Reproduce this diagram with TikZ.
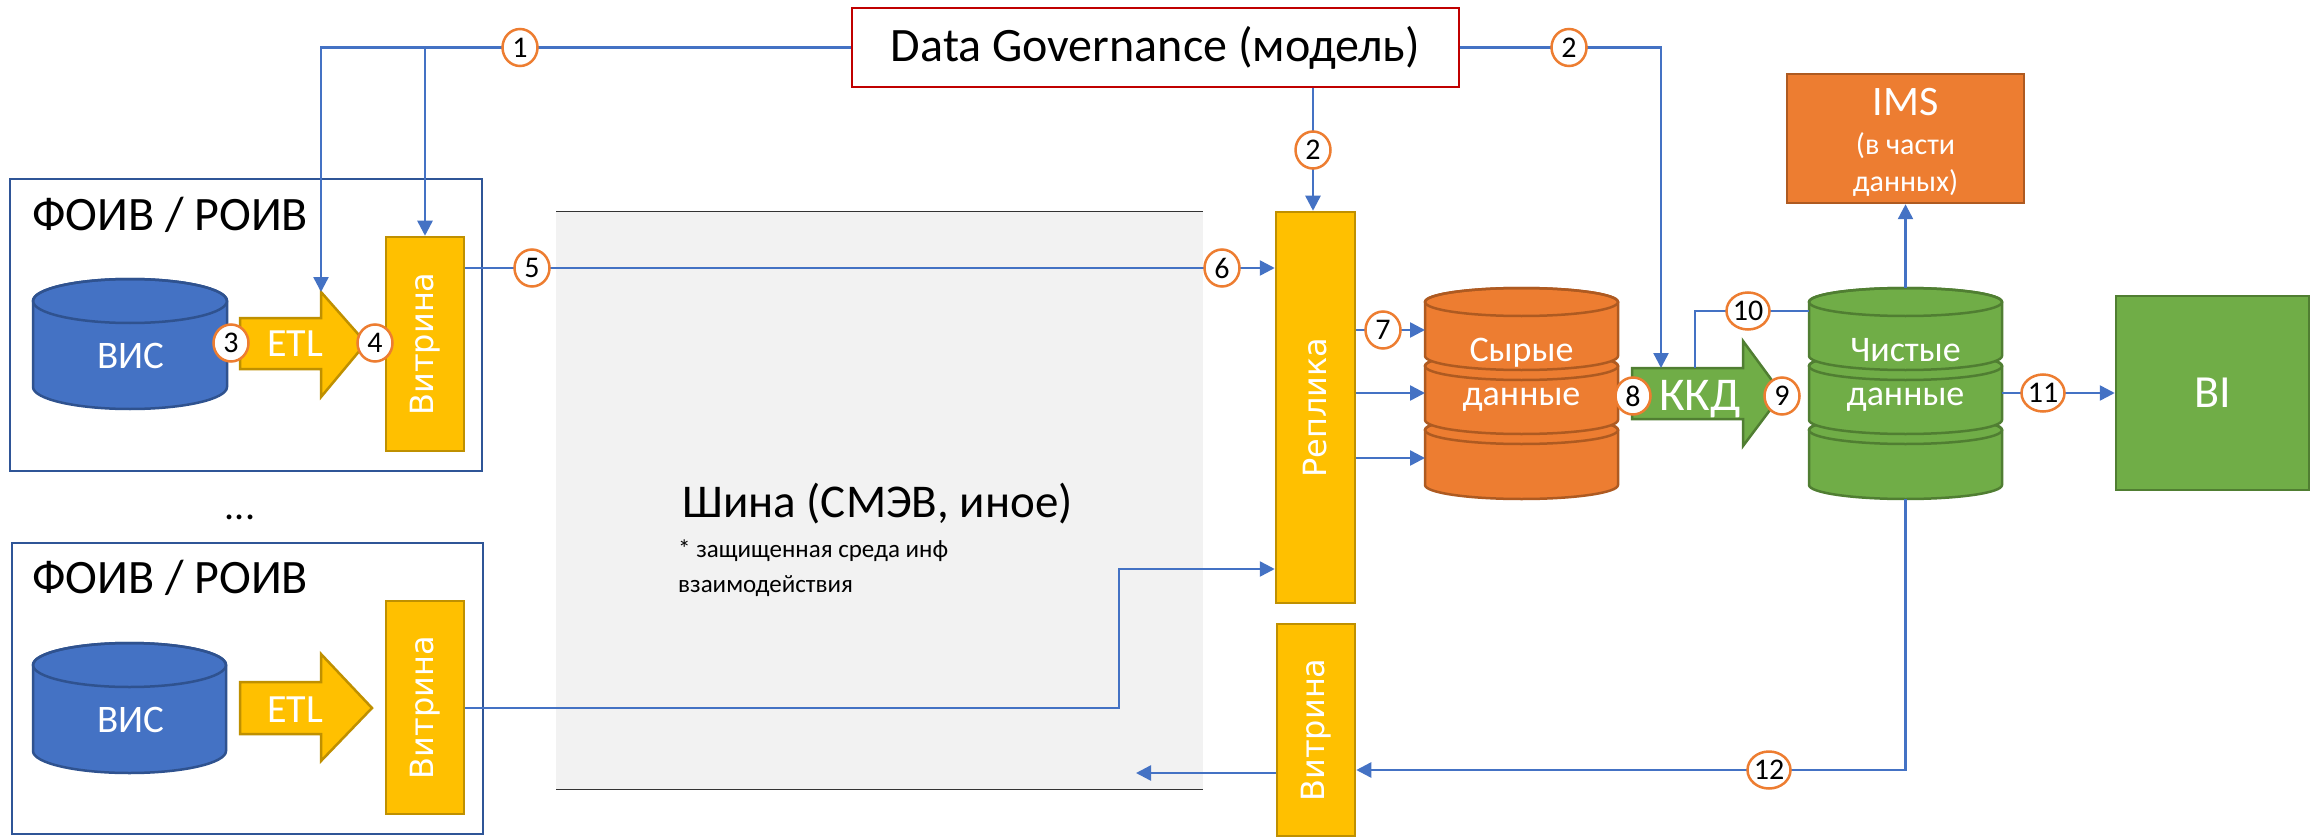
\documentclass[tikz,border=0pt]{standalone}
\usepackage{fontspec}
\setmainfont{Carlito}
\newfontfamily\vfont{DejaVu Sans}
\usetikzlibrary{arrows.meta,shapes.geometric}
\definecolor{cBlue}{HTML}{4472C4}
\definecolor{cFoiv}{HTML}{2F5597}
\definecolor{cCylB}{HTML}{2F528F}
\definecolor{cYel}{HTML}{FFC000}
\definecolor{cYelB}{HTML}{BF9000}
\definecolor{cOr}{HTML}{ED7D31}
\definecolor{cOrB}{HTML}{AE5A21}
\definecolor{cGr}{HTML}{70AD47}
\definecolor{cGrB}{HTML}{507E32}
\definecolor{cGray}{HTML}{F2F2F2}
\definecolor{cRed}{HTML}{C00000}
% disk: x0, x1, ytop-centre, ybottom-centre, ry, fill, draw
\newcommand\mydisk[7]{%
  \pgfmathsetmacro\dcx{(#1+#2)/2}%
  \pgfmathsetmacro\drx{(#2-#1)/2}%
  \pgfmathsetmacro\dkx{0.5523*\drx}%
  \pgfmathsetmacro\dky{0.5523*#5}%
  \pgfmathsetmacro\dbl{#4+#5}%
  \pgfmathsetmacro\dbk{#4+\dky}%
  \pgfmathsetmacro\dtl{#3-#5}%
  \pgfmathsetmacro\dtk{#3-\dky}%
  \pgfmathsetmacro\dxa{\dcx-\dkx}%
  \pgfmathsetmacro\dxb{\dcx+\dkx}%
  \filldraw[fill=#6,draw=#7,line width=2.5pt,line join=round]
    (#1,#3) -- (#1,#4) .. controls (#1,\dbk) and (\dxa,\dbl) .. (\dcx,\dbl)
    .. controls (\dxb,\dbl) and (#2,\dbk) .. (#2,#4) -- (#2,#3)
    .. controls (#2,\dtk) and (\dxb,\dtl) .. (\dcx,\dtl)
    .. controls (\dxa,\dtl) and (#1,\dtk) .. (#1,#3) -- cycle;
  \draw[draw=#7,line width=2.5pt] (\dcx,#3) ellipse[x radius=\drx, y radius=#5];
}
\tikzset{
  foiv/.style={draw=cFoiv,line width=2.5pt,inner sep=0,fill=white},
  yelbox/.style={fill=cYel,draw=cYelB,line width=2.5pt,inner sep=0,text=white,font=\vfont\fontsize{32}{32}\selectfont},
  num/.style={ellipse,draw=cOr,fill=white,line width=2.5pt,minimum width=35pt,minimum height=37pt,inner sep=0pt,font=\fontsize{30}{30}\selectfont},
  conn/.style={draw=cBlue,line width=2.5pt},
  arr/.style={conn,-{Triangle[length=15pt,width=15pt]}},
  big/.style={font=\fontsize{48}{48}\selectfont,inner sep=0},
  wtxt/.style={text=white,inner sep=0},
  ghost/.style={inner sep=0,outer sep=0,draw=none},
}
\begin{document}
\begin{tikzpicture}[x=1pt,y=-1pt]
\useasboundingbox (0,0) rectangle (2323,837);
% bus
\node[fill=cGray,minimum width=647pt,minimum height=577pt,inner sep=0,outer sep=0] (bus) at (879.5,500.5) {};
\draw[line width=1pt,black!80] (bus.north west) -- (bus.north east);
\draw[line width=1pt,black!80] (bus.south west) -- (bus.south east);
\node[font=\fontsize{47}{47}\selectfont,anchor=base west,inner sep=0] (bust) at (682,517) {Шина (СМЭВ, иное)};
\node[font=\fontsize{25}{25}\selectfont,anchor=base west,inner sep=0] (busn1) at (678,557) {* защищенная среда инф};
\node[font=\fontsize{25}{25}\selectfont,anchor=base west,inner sep=0] (busn2) at (678,592) {взаимодействия};

% FOIV boxes
\node[foiv,minimum width=472pt,minimum height=292pt] (f1) at (246,325) {};
\node[big,anchor=base west] (f1t) at (32,230) {ФОИВ / РОИВ};
\node[foiv,minimum width=471pt,minimum height=291pt] (f2) at (247.5,688.5) {};
\node[big,anchor=base west] (f2t) at (32,593) {ФОИВ / РОИВ};
\node[font=\fontsize{40}{40}\selectfont,inner sep=0,anchor=base] (dots) at (240,519) {...};

% VIS cylinders
\mydisk{33}{227}{301}{387}{22}{cBlue}{cCylB}
\node[ghost,minimum width=194pt,minimum height=130pt] (vis1) at (130,344) {};
\node[wtxt,font=\fontsize{39}{39}\selectfont] (vis1t) at (131,356) {ВИС};
\mydisk{33}{226}{665}{751}{22}{cBlue}{cCylB}
\node[ghost,minimum width=193pt,minimum height=130pt] (vis2) at (129.5,708) {};
\node[wtxt,font=\fontsize{39}{39}\selectfont] (vis2t) at (131,720) {ВИС};

% ETL arrows
\filldraw[fill=cYel,draw=cYelB,line width=2.5pt] (240,318) -- (321,318) -- (321,292) -- (366,343) -- (321,397) -- (321,369) -- (240,369) -- cycle;
\coordinate (etl1top) at (321,292);
\node[wtxt,font=\fontsize{40}{40}\selectfont] (etl1) at (295,344) {ETL};
\filldraw[fill=cYel,draw=cYelB,line width=2.5pt] (240,682) -- (321,682) -- (321,654) -- (372,708) -- (321,761) -- (321,734) -- (240,734) -- cycle;
\node[wtxt,font=\fontsize{40}{40}\selectfont] (etl2) at (295,710) {ETL};

% yellow boxes
\node[yelbox,minimum width=78pt,minimum height=214pt] (v1) at (425,344) {\rotatebox{90}{Витрина}};
\node[yelbox,minimum width=78pt,minimum height=213pt] (v2) at (425,707.5) {\rotatebox{90}{Витрина}};
\node[yelbox,minimum width=79pt,minimum height=391pt] (rep) at (1315.5,407.5) {\rotatebox{90}{Реплика}};
\node[yelbox,minimum width=78pt,minimum height=212pt] (v3) at (1316,730) {\rotatebox{90}{Витрина}};

% Data Governance
\node[draw=cRed,line width=2.5pt,fill=white,minimum width=607pt,minimum height=79pt,font=\fontsize{48}{48}\selectfont] (dg) at (1155.5,47.5) {Data Governance (модель)};

% raw data cylinder
\mydisk{1425}{1618}{430}{485}{14}{cOr}{cOrB}
\mydisk{1425}{1618}{366}{420}{14}{cOr}{cOrB}
\mydisk{1425}{1618}{302}{356}{14}{cOr}{cOrB}
\node[ghost,minimum width=193pt,minimum height=211pt] (raw) at (1521.5,393.5) {};
\node[wtxt,font=\fontsize{36}{36}\selectfont,anchor=base] (rawt1) at (1521.5,361) {Сырые};
\node[wtxt,font=\fontsize{36}{36}\selectfont,anchor=base] (rawt2) at (1521.5,405) {данные};

% clean data cylinder
\mydisk{1809}{2002}{430}{485}{14}{cGr}{cGrB}
\mydisk{1809}{2002}{366}{420}{14}{cGr}{cGrB}
\mydisk{1809}{2002}{302}{356}{14}{cGr}{cGrB}
\node[ghost,minimum width=193pt,minimum height=211pt] (cln) at (1905.5,393.5) {};
\node[wtxt,font=\fontsize{36}{36}\selectfont,anchor=base] (clnt1) at (1905.5,361) {Чистые};
\node[wtxt,font=\fontsize{36}{36}\selectfont,anchor=base] (clnt2) at (1905.5,405) {данные};

% KKD arrow
\filldraw[fill=cGr,draw=cGrB,line width=2.5pt] (1632,368) -- (1743,368) -- (1743,341) -- (1782,394) -- (1743,446) -- (1743,419) -- (1632,419) -- cycle;
\coordinate (kkdtop) at (1661,368);
\coordinate (kkd10) at (1695,368);
\node[wtxt,font=\fontsize{47}{47}\selectfont,anchor=base] (kkd) at (1700,410) {ККД};

% IMS and BI
\node[fill=cOr,draw=cOrB,line width=2.5pt,minimum width=237pt,minimum height=129pt] (ims) at (1905.5,138.5) {};
\node[wtxt,font=\fontsize{42}{42}\selectfont,anchor=base] (imst1) at (1905.5,116) {IMS};
\node[wtxt,font=\fontsize{30}{30}\selectfont,anchor=base] (imst2) at (1905.5,155) {(в части};
\node[wtxt,font=\fontsize{30}{30}\selectfont,anchor=base] (imst3) at (1905.5,192) {данных)};
\node[fill=cGr,draw=cGrB,line width=2.5pt,minimum width=193pt,minimum height=194pt,text=white,font=\fontsize{46}{46}\selectfont] (bi) at (2212.5,393) {BI};

% connectors
\draw[arr] (dg.west) -| (etl1top);
\coordinate (j1) at (v1.north |- dg.west);
\draw[arr] (j1) -- (v1.north);
\draw[arr] (dg.east) -| (kkdtop);
\path (dg.south) ++(157.5,0) coordinate (dgs);
\draw[arr] (dgs) -- (dgs |- rep.north);
\draw[arr] (v1.east |- 0,268) -- (rep.west |- 0,268);
\coordinate (bend) at (1119,569);
\draw[arr] (v2.east |- 0,708) -| (bend) -- (rep.west |- bend);
\foreach \yy in {330,393,458} \draw[arr] (rep.east |- 0,\yy) -- (raw.west |- 0,\yy);
\draw[conn] (kkd10) |- (cln.west |- 0,311);
\draw[arr] (cln.east |- bi.west) -- (bi.west);
\draw[arr] (cln.north) -- (ims.south);
\draw[arr] (cln.south) |- (v3.east |- 0,770);
\coordinate (busin) at (1136,773);
\draw[arr] (v3.west |- busin) -- (busin);

% number badges
\node[num] (n1) at (520,47.5) {1};
\node[num] (n2a) at (1569,47.5) {2};
\node[num] (n2b) at (1313,150) {2};
\node[num] (n3) at (231,343) {3};
\node[num] (n4) at (375,343) {4};
\node[num] (n5) at (532,268) {5};
\node[num] (n6) at (1222,268) {6};
\node[num] (n7) at (1383,330) {7};
\node[num] (n8) at (1633,396) {8};
\node[num] (n9) at (1782,396) {9};
\node[num] (n10) at (1748,311) {10};
\node[num] (n11) at (2043,393) {11};
\node[num] (n12) at (1769,770) {12};
\end{tikzpicture}
\end{document}
